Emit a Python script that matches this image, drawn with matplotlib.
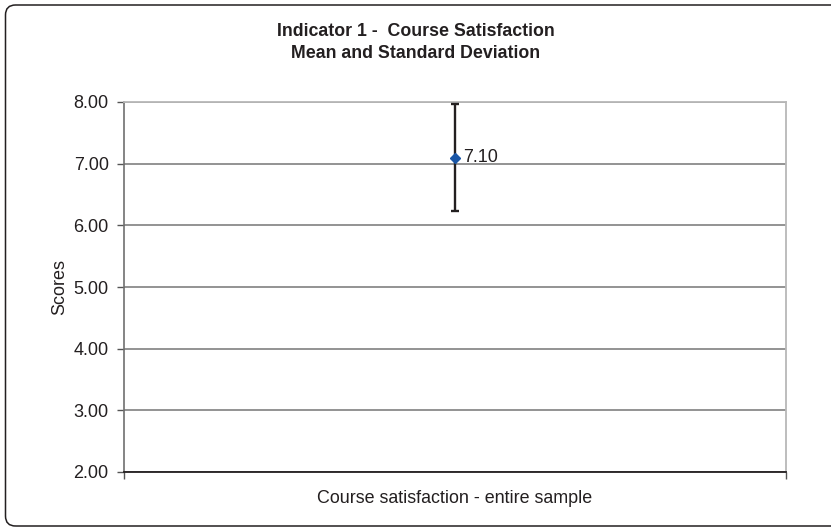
import matplotlib
matplotlib.use("Agg")
import matplotlib.pyplot as plt
from matplotlib.patches import FancyBboxPatch

plt.rcParams['font.family'] = ['Liberation Sans', 'DejaVu Sans']

categories = ["Course satisfaction - entire sample"]
means = [7.10]
sds = [0.87]
mean_labels = ["7.10"]
yticks = [2.0, 3.0, 4.0, 5.0, 6.0, 7.0, 8.0]
title_lines = ["Indicator 1 -  Course Satisfaction", "Mean and Standard Deviation"]
ylabel = "Scores"

W, H = 831, 529
fig = plt.figure(figsize=(W / 100, H / 100), dpi=100)
fig.patch.set_facecolor('white')

# outer rounded frame (right edge lies beyond the image), in inches
frame = FancyBboxPatch((0.055, 0.03), 8.6, 5.21,
                       boxstyle="round,pad=0,rounding_size=0.1",
                       transform=fig.dpi_scale_trans, fill=False,
                       edgecolor='#231f20', linewidth=1.1)
fig.patches.append(frame)

ax = fig.add_axes([124 / W, (H - 472) / H, (786 - 124) / W, (472 - 102) / H])
txt = '#231f20'

ax.set_ylim(2.0, 8.0)
ax.set_xlim(0.5, 0.5 + len(categories))
ax.set_yticks(yticks)
ax.set_yticklabels([f"{v:.2f}" for v in yticks], fontsize=13, color=txt)
ax.yaxis.grid(True, color='#8a8a8a', linewidth=1.3)
ax.set_axisbelow(True)

xs = list(range(1, len(categories) + 1))
ax.set_xticks(xs)
ax.set_xticklabels(categories, fontsize=12.9, color=txt)
ax.tick_params(axis='x', which='major', length=0, pad=13)
ax.set_xticks([0.5 + i for i in range(len(categories) + 1)], minor=True)
ax.tick_params(axis='x', which='minor', length=5, width=1, color='#555555')
ax.tick_params(axis='y', length=5, width=1, color='#555555', pad=6)

for s in ['top', 'right']:
    ax.spines[s].set_color('#b8b8b8')
    ax.spines[s].set_linewidth(1.3)
ax.spines['left'].set_color('#707070')
ax.spines['left'].set_linewidth(1.2)
ax.spines['bottom'].set_color('#231f20')
ax.spines['bottom'].set_linewidth(1.3)

ax.errorbar(xs, means, yerr=sds, fmt='none', ecolor='#231f20',
            elinewidth=1.7, capsize=2.6, capthick=1.7, zorder=3)
ax.plot(xs, means, linestyle='none', marker='D', markersize=5,
        color='#1a56a6', zorder=4)
for x, m, lab in zip(xs, means, mean_labels):
    ax.annotate(lab, (x, m), xytext=(6, 0), textcoords='offset points',
                va='center', ha='left', fontsize=13, color=txt)

ax.set_ylabel(ylabel, fontsize=13, color=txt, labelpad=4)

fig.text(0.5, 1 - 31 / H, title_lines[0], ha='center', va='center',
         fontsize=12.8, fontweight='bold', color=txt)
fig.text(0.5, 1 - 53 / H, title_lines[1], ha='center', va='center',
         fontsize=12.8, fontweight='bold', color=txt)

fig.savefig("out.png", dpi=100)
